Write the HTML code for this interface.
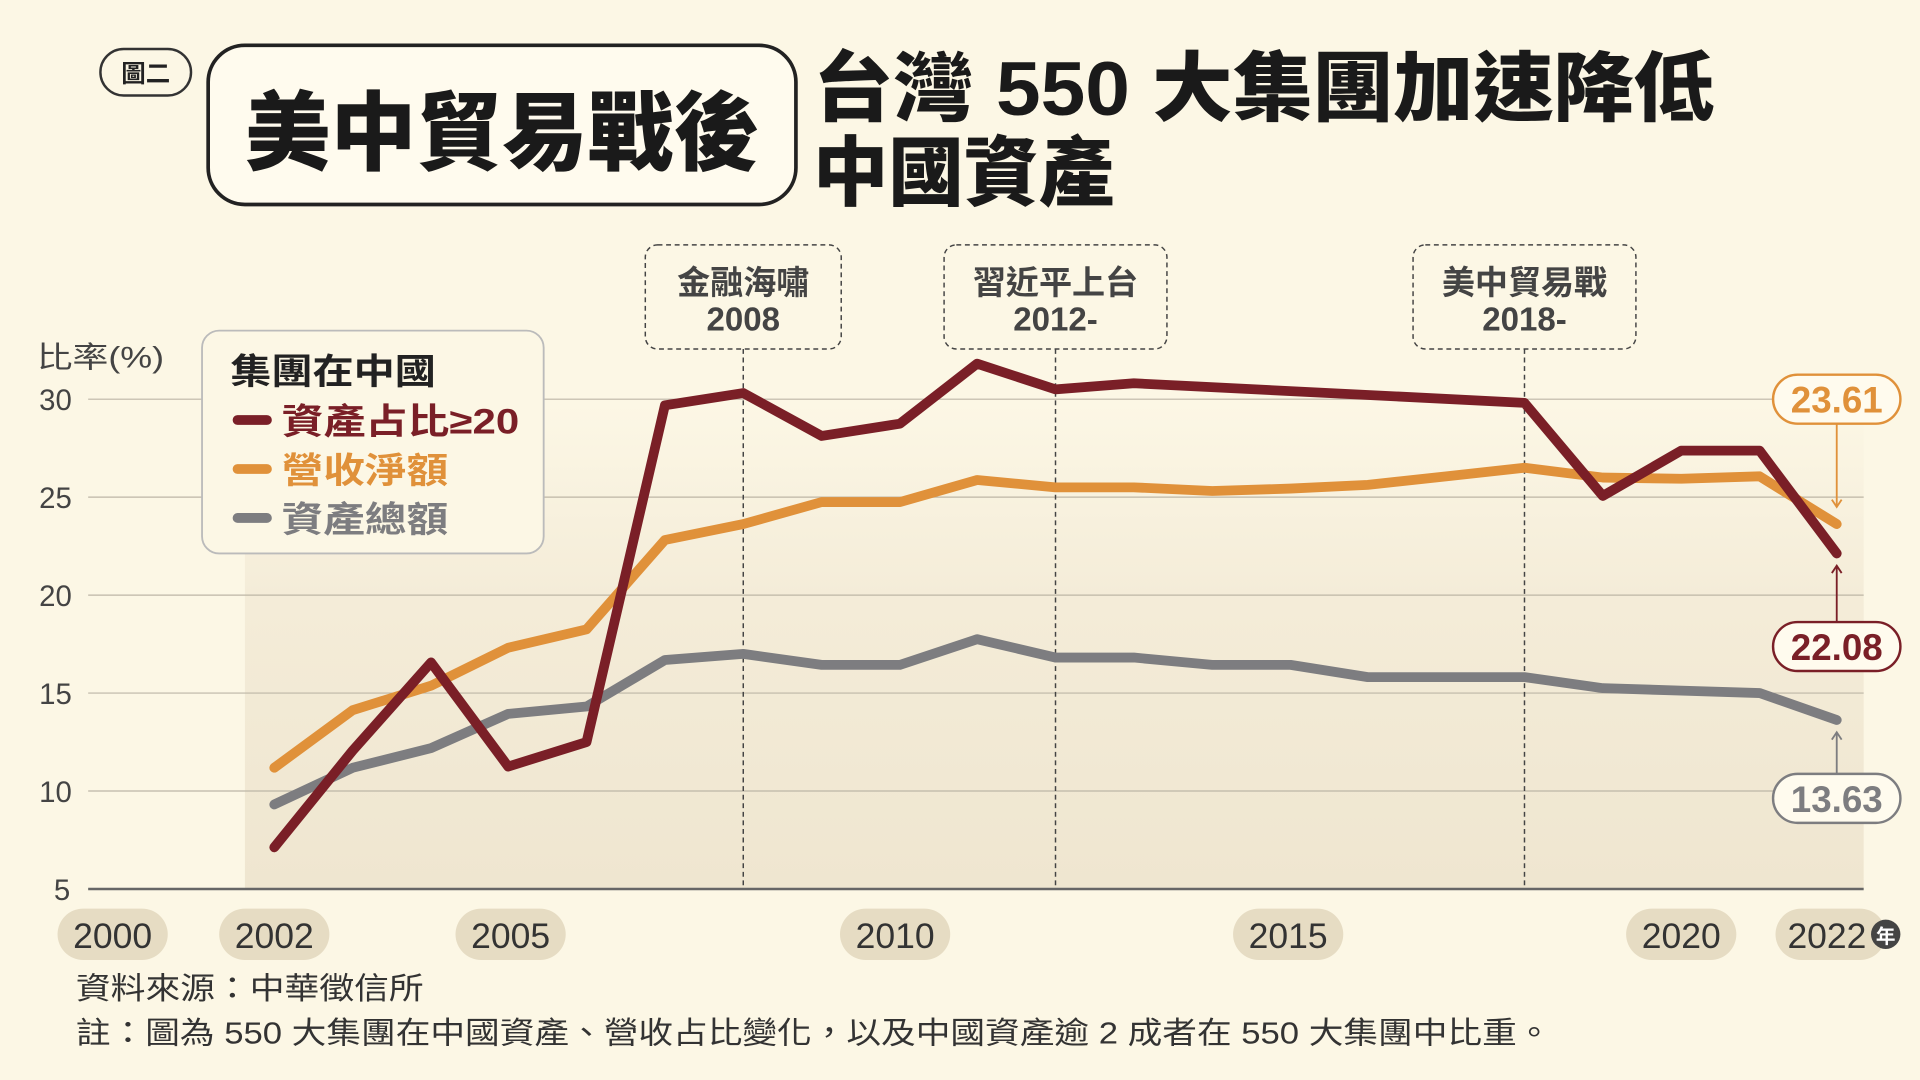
<!DOCTYPE html>
<html><head><meta charset="utf-8"><style>
html,body{margin:0;padding:0;background:#fcf7e5;}
svg{display:block}
text{font-family:"Liberation Sans","Noto Sans CJK TC",sans-serif;}
</style></head><body>
<svg width="1920" height="1080" viewBox="0 0 1568 882" xmlns="http://www.w3.org/2000/svg">
<defs>
<linearGradient id="bg" x1="0" y1="0" x2="0" y2="1">
<stop offset="0" stop-color="#fcf7e5"/><stop offset="0.4" stop-color="#f4ecd8"/><stop offset="1" stop-color="#efe6d0"/>
</linearGradient>
</defs>
<rect width="1568" height="882" fill="#fcf7e5"/>
<rect x="200" y="330" width="1322" height="396" fill="url(#bg)"/>
<rect x="82" y="40" width="74" height="38" rx="19" fill="none" stroke="#333" stroke-width="2"/>
<text x="119" y="67" font-size="20" text-anchor="middle" fill="#222" font-weight="bold">圖二</text>
<rect x="170" y="37" width="480" height="130" rx="30" fill="#fffbee" stroke="#222" stroke-width="3"/>
<text x="410" y="133" font-size="70" font-weight="900" text-anchor="middle" fill="#1a1a1a">美中貿易戰後</text>
<text x="664" y="94" font-size="62" font-weight="900" fill="#1a1a1a" textLength="736" lengthAdjust="spacingAndGlyphs">台灣 550 大集團加速降低</text>
<text x="664" y="163" font-size="62" font-weight="900" fill="#1a1a1a" textLength="246" lengthAdjust="spacingAndGlyphs">中國資產</text>
<g stroke="#bdb6a6" stroke-width="1">
<line x1="72" y1="326" x2="1522" y2="326"/><line x1="72" y1="406" x2="1522" y2="406"/>
<line x1="72" y1="486" x2="1522" y2="486"/><line x1="72" y1="566" x2="1522" y2="566"/>
<line x1="72" y1="646" x2="1522" y2="646"/>
</g>
<line x1="72" y1="726" x2="1522" y2="726" stroke="#666" stroke-width="2"/>
<g font-size="24" fill="#444">
<text x="30" y="300" textLength="104" lengthAdjust="spacingAndGlyphs">比率(%)</text>
<text x="32" y="335">30</text><text x="32" y="415">25</text><text x="32" y="495">20</text>
<text x="32" y="575">15</text><text x="32" y="655">10</text><text x="44" y="735">5</text>
</g>
<g stroke="#444" stroke-width="1.2" stroke-dasharray="4,3" fill="none">
<line x1="607" y1="285" x2="607" y2="726"/><line x1="862" y1="285" x2="862" y2="726"/><line x1="1245" y1="285" x2="1245" y2="726"/>
<rect x="527" y="200" width="160" height="85" rx="10"/>
<rect x="771" y="200" width="182" height="85" rx="10"/>
<rect x="1154" y="200" width="182" height="85" rx="10"/>
</g>
<g font-size="27" font-weight="bold" fill="#444" text-anchor="middle">
<text x="607" y="240">金融海嘯</text><text x="607" y="270">2008</text>
<text x="862" y="240">習近平上台</text><text x="862" y="270">2012-</text>
<text x="1245" y="240">美中貿易戰</text><text x="1245" y="270">2018-</text>
</g>
<g fill="none" stroke-width="8" stroke-linejoin="round" stroke-linecap="round">
<polyline stroke="#7d7d80" points="224,657 288,627 352,611 415,583 479,577 543,539 607,534 671,543 735,543 798,522 862,537 926,537 990,543 1054,543 1117,553 1181,553 1245,553 1309,562 1373,564 1437,566 1500,588"/>
<polyline stroke="#e0913a" points="224,627 288,580 352,560 415,529 479,514 543,441 607,428 671,410 735,410 798,392 862,398 926,398 990,401 1054,399 1117,396 1181,389 1245,382 1309,390 1373,391 1437,389 1500,428"/>
<polyline stroke="#7a1f27" points="224,692 288,613 352,541 415,626 479,606 543,331 607,321 671,356 735,346 798,297 862,318 926,313 1245,329 1309,405 1373,368 1437,368 1500,452"/>
</g>
<rect x="165" y="270" width="279" height="182" rx="14" fill="#fcf7e5" stroke="#bbb" stroke-width="1.5"/>
<text x="188" y="313" font-size="29" font-weight="bold" fill="#222" textLength="168" lengthAdjust="spacingAndGlyphs">集團在中國</text>
<g stroke-width="8" stroke-linecap="round">
<line x1="194" y1="343" x2="218" y2="343" stroke="#7a1f27"/>
<line x1="194" y1="383" x2="218" y2="383" stroke="#e0913a"/>
<line x1="194" y1="423" x2="218" y2="423" stroke="#7d7d80"/>
</g>
<text x="230" y="354" font-size="29" font-weight="bold" fill="#7a1f27" textLength="194" lengthAdjust="spacingAndGlyphs">資產占比≥20</text>
<text x="230" y="394" font-size="29" font-weight="bold" fill="#e0913a" textLength="136" lengthAdjust="spacingAndGlyphs">營收淨額</text>
<text x="230" y="434" font-size="29" font-weight="bold" fill="#7d7d80" textLength="136" lengthAdjust="spacingAndGlyphs">資產總額</text>
<g stroke-width="1.5" fill="none">
<line x1="1500" y1="346" x2="1500" y2="414" stroke="#e0913a"/>
<polyline points="1496,408 1500,414 1504,408" stroke="#e0913a"/>
<line x1="1500" y1="462" x2="1500" y2="508" stroke="#7a1f27"/>
<polyline points="1496,468 1500,462 1504,468" stroke="#7a1f27"/>
<line x1="1500" y1="598" x2="1500" y2="632" stroke="#7d7d80"/>
<polyline points="1496,604 1500,598 1504,604" stroke="#7d7d80"/>
</g>
<rect x="1448" y="306" width="104" height="40" rx="20" fill="#fffbee" stroke="#e0913a" stroke-width="2"/>
<rect x="1448" y="508" width="104" height="40" rx="20" fill="#fffbee" stroke="#7a1f27" stroke-width="2"/>
<rect x="1448" y="632" width="104" height="40" rx="20" fill="#fffbee" stroke="#7d7d80" stroke-width="2"/>
<g font-size="30" font-weight="bold" text-anchor="middle">
<text x="1500" y="337" fill="#e0913a">23.61</text>
<text x="1500" y="539" fill="#7a1f27">22.08</text>
<text x="1500" y="663" fill="#7d7d80">13.63</text>
</g>
<g fill="#e6dcc3">
<rect x="47" y="742" width="90" height="42" rx="21"/><rect x="179" y="742" width="90" height="42" rx="21"/>
<rect x="372" y="742" width="90" height="42" rx="21"/><rect x="686" y="742" width="90" height="42" rx="21"/>
<rect x="1007" y="742" width="90" height="42" rx="21"/><rect x="1328" y="742" width="90" height="42" rx="21"/>
<rect x="1450" y="742" width="90" height="42" rx="21"/>
</g>
<g font-size="29" fill="#333" text-anchor="middle">
<text x="92" y="774">2000</text><text x="224" y="774">2002</text><text x="417" y="774">2005</text>
<text x="731" y="774">2010</text><text x="1052" y="774">2015</text><text x="1373" y="774">2020</text><text x="1492" y="774">2022</text>
</g>
<circle cx="1540" cy="763" r="12" fill="#444"/>
<text x="1540" y="770" font-size="16" fill="#fff" text-anchor="middle" font-weight="bold">年</text>
<g font-size="25" fill="#333">
<text x="62" y="816" textLength="284" lengthAdjust="spacingAndGlyphs">資料來源：中華徵信所</text>
<text x="62" y="852" textLength="1205" lengthAdjust="spacingAndGlyphs">註：圖為 550 大集團在中國資產、營收占比變化，以及中國資產逾 2 成者在 550 大集團中比重。</text>
</g>
</svg>
</body></html>
